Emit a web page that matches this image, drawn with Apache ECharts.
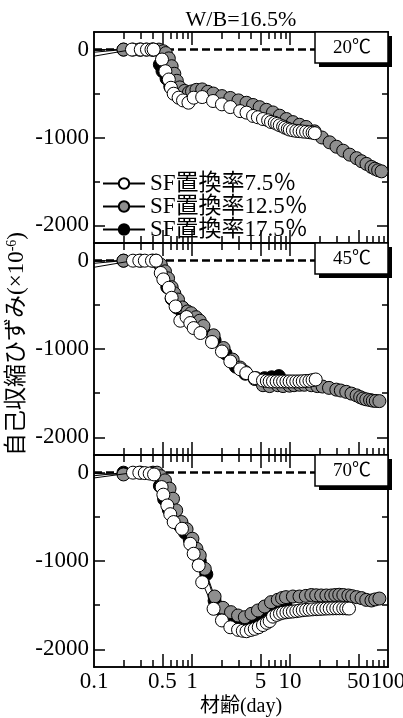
<!DOCTYPE html>
<html><head><meta charset="utf-8">
<script src="https://cdn.jsdelivr.net/npm/echarts@6/dist/echarts.min.js"></script>
<style>html,body{margin:0;padding:0;background:#fff}#c{width:403px;height:718px}</style>
</head><body><div id="c"></div>
<script>
// ---- tick / label definitions ----
const xTickLong = [0.5, 1, 5, 10, 50];
const xTickShort = [0.2,0.3,0.4,0.6,0.7,0.8,0.9,2,3,4,6,7,8,9,20,30,40,60,70,80,90];
const xLabels = [0.1, 0.5, 1, 5, 10, 50, 100];
const yLabels = [0, -1000, -2000];
const yTickMajor = [0, -1000, -2000];
const yTickMinor = [-500, -1500];
const seriesNames = ['SF置換率7.5％', 'SF置換率12.5％', 'SF置換率17.5％'];
const panelLabels = ['20℃', '45℃', '70℃'];
const chartTitle = 'W/B=16.5%';

// ---- data: [day, strain] ; first point at 0.1 is line start without marker ----
// 20℃
const p20_sf75 = [[0.1,-75],[0.244,0],[0.3,0],[0.347,0],[0.386,0],[0.406,0],[0.494,-113],[0.535,-246],[0.58,-340],[0.61,-434],[0.65,-502],[0.73,-547],[0.81,-578],[0.92,-604],[1.04,-547],[1.27,-540],[1.64,-585],[2.02,-623],[2.46,-654],[3.1,-700],[3.6,-717],[4.2,-755],[4.7,-770],[5.3,-790],[5.98,-805],[6.4,-823],[6.99,-832],[7.4,-845],[7.86,-861],[8.5,-875],[8.9,-888],[9.5,-900],[9.95,-910],[10.7,-918],[11.6,-925],[12.5,-928],[13.5,-932],[14.6,-935],[15.8,-940],[17,-945],[17.9,-951]];
const p20_sf125 = [[0.1,0],[0.2,0],[0.25,0],[0.29,0],[0.34,0],[0.4,0],[0.46,0],[0.51,-19],[0.54,-40],[0.58,-100],[0.62,-189],[0.66,-275],[0.7,-355],[0.75,-430],[0.84,-470],[0.93,-488],[1.0,-475],[1.11,-458],[1.27,-453],[1.45,-480],[1.65,-500],[2.02,-529],[2.46,-550],[2.98,-578],[3.6,-605],[4.2,-630],[4.9,-655],[5.75,-685],[6.7,-715],[7.86,-752],[9.2,-790],[10.7,-825],[12.5,-855],[14.6,-880],[17.8,-930],[21.2,-1000],[25.4,-1055],[29.8,-1105],[34.9,-1150],[40.7,-1195],[47.8,-1235],[53.7,-1270],[60.3,-1300],[67.8,-1335],[73.4,-1355],[79.3,-1372],[85.9,-1385]];
const p20_sf175 = [[0.1,-30],[0.2,0],[0.3,0],[0.4,0],[0.47,-170],[0.5,-245],[0.55,-330],[0.6,-420],[0.68,-490],[0.78,-530],[0.9,-545],[1.05,-520],[1.3,-505],[1.7,-550],[2.2,-590],[2.8,-630],[3.5,-670],[4.5,-715],[5.5,-755],[7,-800],[8.5,-840]];
// 45℃
const p45_sf75 = [[0.1,-75],[0.25,0],[0.29,0],[0.33,0],[0.39,0],[0.43,0],[0.48,-139],[0.51,-212],[0.58,-307],[0.62,-420],[0.68,-518],[0.76,-680],[0.88,-638],[0.96,-706],[1.04,-763],[1.22,-819],[1.6,-921],[2.02,-1028],[2.46,-1141],[3.1,-1230],[3.58,-1273],[4.37,-1329],[5.3,-1356],[5.8,-1362],[6.2,-1367],[6.7,-1367],[7.3,-1367],[7.9,-1367],[8.5,-1367],[9.2,-1367],[9.9,-1367],[10.7,-1367],[11.6,-1367],[12.5,-1367],[13.5,-1365],[14.6,-1362],[15.8,-1360],[17,-1352],[18.3,-1345]];
const p45_sf125 = [[0.1,0],[0.2,0],[0.43,0],[0.48,-45],[0.53,-121],[0.57,-200],[0.62,-300],[0.66,-370],[0.72,-440],[0.8,-530],[0.9,-575],[0.98,-595],[1.1,-640],[1.2,-680],[1.31,-740],[1.66,-845],[2.1,-989],[2.6,-1120],[3.1,-1210],[3.5,-1260],[4.37,-1340],[5.3,-1410],[6.2,-1420],[7.5,-1410],[8.5,-1420],[9.9,-1415],[11,-1410],[12.5,-1405],[14,-1405],[16.5,-1410],[19,-1420],[21.5,-1425],[25,-1440],[29.7,-1460],[33,-1470],[37.5,-1485],[42.4,-1505],[47.8,-1525],[52,-1545],[55.7,-1560],[60,-1570],[65.6,-1578],[70,-1585],[75,-1588],[81.7,-1590]];
const p45_sf175 = [[0.1,-30],[0.2,0],[0.3,0],[0.4,0],[0.48,-60],[0.52,-180],[0.56,-300],[0.62,-430],[0.7,-530],[0.8,-590],[0.9,-620],[1.0,-660],[1.15,-720],[1.3,-780],[1.7,-900],[2.2,-1050],[2.8,-1200],[3.5,-1280],[4.5,-1330],[5.5,-1330],[6.5,-1320],[7.7,-1307]];
// 70℃
const p70_sf75 = [[0.1,-60],[0.25,0],[0.29,0],[0.33,-5],[0.37,-10],[0.41,-20],[0.49,-163],[0.51,-249],[0.56,-371],[0.6,-470],[0.65,-559],[0.79,-635],[0.96,-805],[1.04,-918],[1.17,-1050],[1.27,-1240],[1.66,-1541],[2.02,-1673],[2.46,-1750],[2.95,-1779],[3.3,-1790],[3.6,-1795],[4.0,-1780],[4.37,-1768],[4.8,-1750],[5.3,-1725],[5.8,-1700],[6.2,-1680],[6.7,-1630],[7.3,-1610],[7.9,-1595],[8.5,-1585],[9.2,-1580],[9.9,-1575],[10.7,-1572],[11.6,-1568],[12.5,-1562],[13.5,-1557],[14.6,-1553],[15.8,-1550],[17.1,-1547],[18.6,-1545],[20,-1543],[21.7,-1540],[23.5,-1538],[25.4,-1537],[27.5,-1536],[29.7,-1535],[32,-1535],[34.9,-1535],[37.5,-1536],[40,-1538]];
const p70_sf125 = [[0.1,-10],[0.2,-20],[0.44,0],[0.48,-40],[0.53,-87],[0.59,-181],[0.64,-295],[0.69,-427],[0.78,-559],[0.88,-640],[1.01,-748],[1.11,-861],[1.2,-937],[1.35,-1088],[1.7,-1402],[2.07,-1530],[2.5,-1579],[2.95,-1617],[3.46,-1636],[4.04,-1598],[4.7,-1560],[5.5,-1515],[6.4,-1466],[7.5,-1439],[8.3,-1420],[9.1,-1409],[10.7,-1402],[12.5,-1402],[14.5,-1395],[16.5,-1385],[18.5,-1388],[20.8,-1390],[23.5,-1390],[26.3,-1390],[29,-1385],[31.8,-1382],[35,-1385],[39.4,-1390],[43,-1398],[47.8,-1409],[53.7,-1420],[60,-1440],[67.8,-1447],[74,-1435],[81.7,-1425]];
const p70_sf175 = [[0.1,-35],[0.2,0],[0.3,0],[0.4,0],[0.47,-150],[0.52,-300],[0.58,-420],[0.65,-520],[0.75,-600],[0.85,-680],[0.95,-760],[1.05,-850],[1.2,-1000],[1.4,-1150],[1.7,-1450],[2.1,-1600],[2.6,-1680],[3.2,-1710],[3.8,-1700],[4.5,-1660],[5.5,-1610],[6.5,-1560],[8,-1520],[9,-1500]];

const panels = [
  [p20_sf75, p20_sf125, p20_sf175],
  [p45_sf75, p45_sf125, p45_sf175],
  [p70_sf75, p70_sf125, p70_sf175]
];
const fills = ['#ffffff', '#8e8e8e', '#000000'];
const gridTops = [32, 243, 455];
const gridHeights = [211, 212, 212];
const GL = 94, GW = 294;
const FONT = "'Liberation Serif','Noto Sans CJK JP',serif";

const grid = [], xAxis = [], yAxis = [], series = [], graphic = [];
const lineS = {color:'#000', width:1.5};

panels.forEach((pd, i) => {
  grid.push({left: GL, width: GW, top: gridTops[i], height: gridHeights[i], containLabel: false, outerBoundsMode: 'none'});
  const xb = {type:'log', logBase:10, min:0.1, max:100, gridIndex:i, splitLine:{show:false}, minorTick:{show:false},
              axisLine:{show:true, onZero:false, lineStyle:lineS}, axisLabel:{show:false}};
  const xLab = i === 2 ? {show:true, customValues:xLabels, margin:3, color:'#000', fontSize:23, fontFamily:FONT,
                          formatter: v => String(+(+v).toPrecision(3))} : {show:false};
  xAxis.push(Object.assign({}, xb, {position:'bottom', axisTick:{show:true, inside:true, length:13, customValues:xTickLong, lineStyle:lineS}, axisLabel:xLab}));
  xAxis.push(Object.assign({}, xb, {position:'bottom', axisTick:{show:true, inside:true, length:7, customValues:xTickShort, lineStyle:lineS}}));
  xAxis.push(Object.assign({}, xb, {position:'top', axisTick:{show:true, inside:true, length:13, customValues:xTickLong, lineStyle:lineS}}));
  xAxis.push(Object.assign({}, xb, {position:'top', axisTick:{show:true, inside:true, length:7, customValues:xTickShort, lineStyle:lineS}}));

  const yb = {type:'value', min:-2200, max:200, gridIndex:i, splitLine:{show:false},
              axisLine:{show:true, onZero:false, lineStyle:lineS}, axisLabel:{show:false}};
  yAxis.push(Object.assign({}, yb, {position:'left', axisTick:{show:true, inside:true, length:11, customValues:yTickMajor, lineStyle:lineS},
     axisLabel:{show:true, customValues:yLabels, margin:5, color:'#000', fontSize:23, fontFamily:FONT, formatter: v => String(v)}}));
  yAxis.push(Object.assign({}, yb, {position:'left', axisTick:{show:true, inside:true, length:6, customValues:yTickMinor, lineStyle:lineS}}));
  yAxis.push(Object.assign({}, yb, {position:'right', axisTick:{show:true, inside:true, length:11, customValues:yTickMajor, lineStyle:lineS}}));
  yAxis.push(Object.assign({}, yb, {position:'right', axisTick:{show:true, inside:true, length:6, customValues:yTickMinor, lineStyle:lineS}}));

  // zero reference dashed line
  series.push({type:'line', name:'zero', xAxisIndex:i*4, yAxisIndex:i*4, data:[], z:1, silent:true,
    markLine:{silent:true, z:1, symbol:'none', label:{show:false}, animation:false,
      lineStyle:{type:[8,4], color:'#000', width:2.5}, data:[{yAxis:0}]}});

  // draw order: 17.5% (bottom), 12.5%, 7.5% (top)
  [2, 1, 0].forEach(k => {
    series.push({
      name: seriesNames[k], type:'line', xAxisIndex:i*4, yAxisIndex:i*4,
      data: pd[k].map(p => p[0] <= 0.1 ? {value:[p[0], p[1]], symbol:'none'} : [p[0], p[1]]),
      symbol:'circle', symbolSize:13, showSymbol:true, clip:true,
      itemStyle:{color:fills[k], borderColor:'#000', borderWidth:1},
      lineStyle:{color:'#000', width:1},
      z: 4 - k, animation:false
    });
  });

  // temperature label box with shadow
  const bt = gridTops[i];
  graphic.push({type:'rect', shape:{x:319, y:bt+4, width:73, height:31}, style:{fill:'#000'}, z:10});
  graphic.push({type:'rect', shape:{x:315, y:bt, width:73, height:31}, style:{fill:'#fff', stroke:'#000', lineWidth:1.5}, z:11});
  graphic.push({type:'text', x:352, y:bt+16, z:12, style:{text:panelLabels[i], fill:'#000', font:"19px " + FONT, align:'center', verticalAlign:'middle'}});
});

graphic.push({type:'text', x:241, y:20, z:12, style:{text:chartTitle, fill:'#000', font:"22px " + FONT, align:'center', verticalAlign:'middle'}});
graphic.push({type:'text', x:241, y:707, z:12, style:{text:'材齢(day)', fill:'#000', font:"20px " + FONT, align:'center', verticalAlign:'middle'}});
graphic.push({type:'text', x:17, y:344, rotation:Math.PI/2, z:12, style:{
  text:'自己収縮ひずみ(×10{sup|-6})', fill:'#000', font:"23px " + FONT, align:'center', verticalAlign:'middle',
  rich:{sup:{fontSize:14, fontFamily:FONT, verticalAlign:'top', padding:[0,0,10,0]}}}});

const chart = echarts.init(document.getElementById('c'), null, {renderer:'canvas'});
chart.setOption({
  animation:false,
  backgroundColor:'#fff',
  grid, xAxis, yAxis, series, graphic,
  legend:{data:seriesNames, orient:'vertical', left:97, top:167, itemGap:0, itemWidth:42, itemHeight:13,
    textStyle:{color:'#000', fontSize:23, fontFamily:FONT, lineHeight:22}, inactiveColor:'#000', selectedMode:false}
});
</script></body></html>
